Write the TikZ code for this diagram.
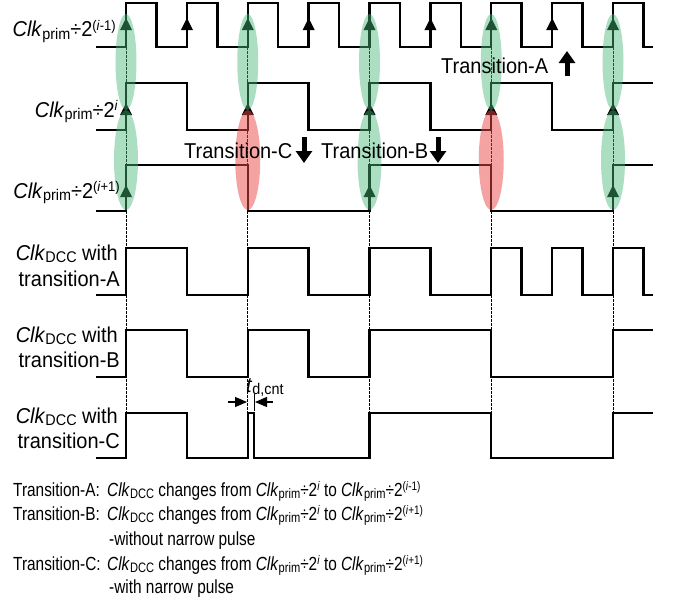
\documentclass[tikz,border=0pt]{standalone}
\usepackage{fontspec}
\setmainfont{Liberation Sans}[FakeStretch=0.93]
\newfontfamily\condfont{Liberation Sans}[FakeStretch=0.81]
\usetikzlibrary{arrows.meta}
\makeatletter
\newcommand\lsub[1]{\raisebox{-0.12em}{\fontsize{\fpeval{0.72*\f@size}}{1}\selectfont #1}}
\newcommand\lsup[1]{\raisebox{0.3em}{\fontsize{\fpeval{0.65*\f@size}}{1}\selectfont #1}}
\makeatother
\newcommand\clkp[1]{\textit{Clk}\lsub{prim}÷2\lsup{#1}}
\newcommand\clkd{\textit{Clk}\lsub{DCC}}
\definecolor{ovgreen}{RGB}{70,185,120}
\definecolor{ovred}{RGB}{235,70,70}
\begin{document}
\begin{tikzpicture}[x=1pt,y=-1pt,
  sig/.style={line width=2.4pt, line join=miter},
  guide/.style={line width=0.7pt, dash pattern=on 2.5pt off 1.5pt},
  lbl/.style={inner sep=0pt, anchor=base east, font=\fontsize{21.5}{24}\selectfont},
  tlbl/.style={inner sep=0pt, anchor=base west, font=\fontsize{21.5}{24}\selectfont},
  btxt/.style={inner sep=0pt, anchor=base west, font=\condfont\fontsize{19}{22}\selectfont},
  blk/.style={line width=5pt, -{Triangle[width=16pt 0,length=12pt 0]}},
  dimarrow/.style={line width=1.3pt, -{Triangle[width=10pt 0,length=12pt 0]}},
  gov/.style={fill=ovgreen, fill opacity=0.45},
  rov/.style={fill=ovred, fill opacity=0.5}]
\useasboundingbox (0,0) rectangle (673,605);

% guide lines
\foreach \x in {126,247.75,369.5,491.25,613}
  \draw[guide] (\x,3) -- (\x,458);

% waveforms
\draw[sig] (96,47) -| (126,3) -| (156.44,47) -| (186.88,3) -| (217.31,47) -| (247.75,3) -| (278.19,47) -| (308.63,3) -| (339.06,47) -| (369.5,3) -| (399.94,47) -| (430.38,3) -| (460.81,47) -| (491.25,3) -| (521.69,47) -| (552.13,3) -| (582.56,47) -| (613,3) -| (643.44,47) -- (653,47);
\draw[sig] (96,130) -| (126,83) -| (186.88,130) -| (247.75,83) -| (308.63,130) -| (369.5,83) -| (430.38,130) -| (491.25,83) -| (552.13,130) -| (613,83) -- (653,83);
\draw[sig] (96,211) -| (126,165) -| (247.75,211) -| (369.5,165) -| (491.25,211) -| (613,165) -- (653,165);
\draw[sig] (96,295) -| (126,248) -| (186.88,295) -| (247.75,248) -| (308.63,295) -| (369.5,248) -| (430.38,295) -| (491.25,248) -| (521.69,295) -| (552.13,248) -| (582.56,295) -| (613,248) -| (643.44,295) -- (653,295);
\draw[sig] (96,377) -| (126,330) -| (186.88,377) -| (247.75,330) -| (308.63,377) -| (369.5,330) -| (491.25,377) -| (613,330) -- (653,330);
\draw[sig] (96,458) -| (126,413) -| (186.88,458) -| (247.75,413) -| (254,458) -| (369.5,413) -| (491.25,458) -| (613,413) -- (653,413);

% edge arrowheads
\foreach \x in {126,186.88,247.75,308.63,369.5,430.38,491.25,552.13,613}
  \fill (\x-6,30) -- (\x,18) -- (\x+6,30) -- cycle;
\foreach \x in {126,247.75,369.5,491.25,613}
  \fill (\x-6,115) -- (\x,103) -- (\x+6,115) -- cycle;
\foreach \x in {126,369.5,613}
  \fill (\x-6,197) -- (\x,185) -- (\x+6,197) -- cycle;

% ovals
\foreach \x in {126,247.75,369.5,491.25,613}
  \fill[gov] (\x,62) ellipse [x radius=10.5pt, y radius=48pt];
\foreach \x in {126,369.5,613}
  \fill[gov] (\x,160) ellipse [x radius=12pt, y radius=50pt];
\foreach \x in {247.75,491.25}
  \fill[rov] (\x,160) ellipse [x radius=12.5pt, y radius=50pt];

% signal labels
\node[lbl] (l1) at (116,37) {\clkp{(\textit{i}-1)}};
\node[lbl] (l2) at (118,117) {\clkp{\textit{i}}};
\node[lbl] (l3) at (120,198) {\clkp{(\textit{i}+1)}};
\node[lbl] (l4a) at (118,260) {\clkd{} with};
\node[lbl] (l4b) at (120,286) {transition-A};
\node[lbl] (l5a) at (118,342) {\clkd{} with};
\node[lbl] (l5b) at (120,367) {transition-B};
\node[lbl] (l6a) at (118,423) {\clkd{} with};
\node[lbl] (l6b) at (120,448) {transition-C};

% transition labels and block arrows
\node[tlbl] (trA) at (441,73) {Transition-A};
\node[tlbl] (trC) at (184,158) {Transition-C};
\node[tlbl] (trB) at (321,158) {Transition-B};
\coordinate (aA0) at (567,76); \coordinate (aA1) at (567,51);
\coordinate (aC0) at (304,137); \coordinate (aC1) at (304,163);
\coordinate (aB0) at (438,137); \coordinate (aB1) at (438,163);
\draw[blk] (aA0) -- (aA1);
\draw[blk] (aC0) -- (aC1);
\draw[blk] (aB0) -- (aB1);

% t_d,cnt
\node[tlbl] (td) at (246,392) {\textit{t}\lsub{d,cnt}};
\coordinate (tl0) at (228,402); \coordinate (tl1) at (247,402);
\coordinate (tr0) at (273,402); \coordinate (tr1) at (255,402);
\draw[dimarrow] (tl0) -- (tl1);
\draw[dimarrow] (tr0) -- (tr1);
\coordinate (tk0) at (254.5,394); \coordinate (tk1) at (254.5,411);
\draw[line width=1pt] (tk0) -- (tk1);

% bottom legend
\node[btxt] (b1l) at (13,496) {Transition-A:};
\node[btxt] (b1r) at (107,496) {\clkd{} changes from \clkp{\textit{i}} to \clkp{(\textit{i}-1)}};
\node[btxt] (b2l) at (13,520) {Transition-B:};
\node[btxt] (b2r) at (107,520) {\clkd{} changes from \clkp{\textit{i}} to \clkp{(\textit{i}+1)}};
\node[btxt] (b3r) at (109,545) {-without narrow pulse};
\node[btxt] (b4l) at (13,570) {Transition-C:};
\node[btxt] (b4r) at (107,570) {\clkd{} changes from \clkp{\textit{i}} to \clkp{(\textit{i}+1)}};
\node[btxt] (b5r) at (109,593) {-with narrow pulse};
\end{tikzpicture}
\end{document}
